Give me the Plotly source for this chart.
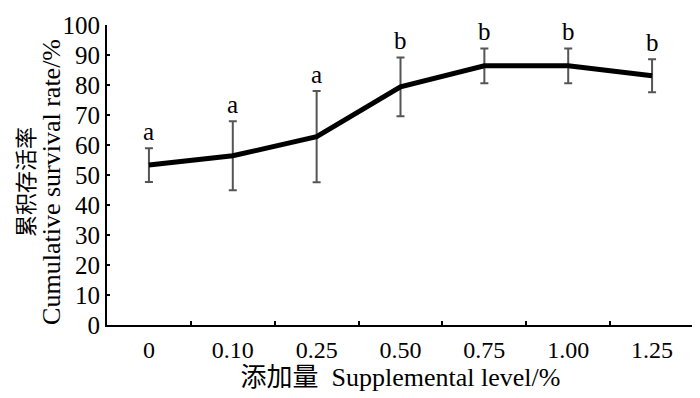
import plotly.graph_objects as go

levels = ["0", "0.10", "0.25", "0.50", "0.75", "1.00", "1.25"]
survival = [53.3, 56.4, 62.8, 79.4, 86.4, 86.4, 83.1]
errors = [5.6, 11.5, 15.2, 9.8, 5.8, 5.8, 5.5]
letters = ["a", "a", "a", "b", "b", "b", "b"]
y_title_cn = "累积存活率"
y_title_en = "Cumulative survival rate/%"
x_title = "添加量  Supplemental level/%"

serif = "Liberation Serif, 'Times New Roman', 'Noto Sans CJK SC', serif"

fig = go.Figure()
fig.add_trace(go.Scatter(
    x=levels, y=survival, mode="lines",
    line=dict(color="black", width=5),
    error_y=dict(type="data", array=errors, visible=True,
                 color="#555555", thickness=2, width=4),
    showlegend=False,
))

for i, (v, e, t) in enumerate(zip(survival, errors, letters)):
    fig.add_annotation(x=i, y=v + e, text=t, showarrow=False,
                       yanchor="bottom", yshift=1,
                       font=dict(family=serif, size=25, color="black"))

# two-line rotated y-axis title
fig.add_annotation(xref="paper", yref="paper", x=0, y=0.477,
                   xanchor="center", yanchor="middle", xshift=-83,
                   textangle=-90, text=y_title_cn, showarrow=False,
                   borderpad=0,
                   font=dict(family="'Noto Sans CJK SC', serif", size=22, color="black"))
fig.add_annotation(xref="paper", yref="paper", x=0, y=0.477,
                   xanchor="center", yanchor="middle", xshift=-55,
                   textangle=-90, text=y_title_en, showarrow=False,
                   borderpad=0,
                   font=dict(family=serif, size=26, color="black"))

fig.update_layout(
    width=692, height=390,
    margin=dict(l=99, r=6, t=17, b=73),
    paper_bgcolor="white", plot_bgcolor="white",
    font=dict(family=serif, color="black"),
    xaxis=dict(
        type="category", range=[-0.5, 6.5], automargin=False,
        showline=True, linecolor="black", linewidth=2,
        ticks="inside", ticklen=4, tickwidth=2, tickcolor="black",
        tickson="boundaries", showgrid=False, zeroline=False,
        tickfont=dict(size=24, family=serif), ticklabelstandoff=2,
        title=dict(text=x_title,
                   font=dict(size=26, family=serif), standoff=6),
    ),
    yaxis=dict(
        range=[0, 100], dtick=10, automargin=False,
        showline=True, linecolor="black", linewidth=2,
        ticks="inside", ticklen=3, tickwidth=2, tickcolor="black",
        showgrid=False, zeroline=False,
        tickfont=dict(size=25, family=serif),
    ),
)

fig.write_html("out.html")
